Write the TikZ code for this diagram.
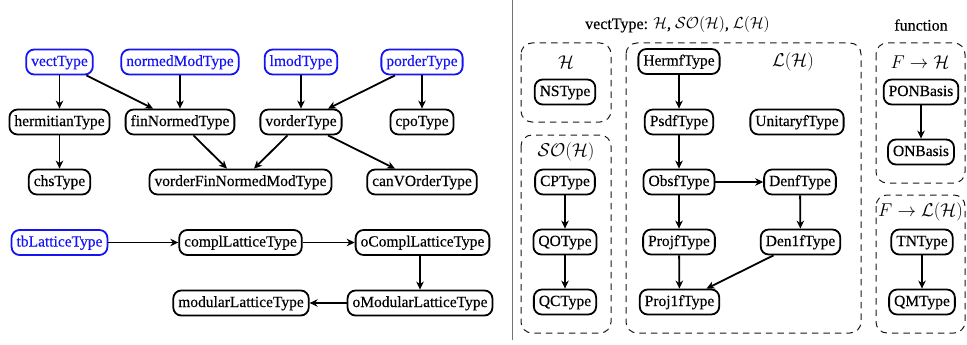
\documentclass[tikz,border=0pt]{standalone}
\usepackage{fix-cm}
\usepackage{fontspec}
\setmainfont{Liberation Serif}
\newfontfamily\nodefont[FakeBold=0.35]{Liberation Serif}
\usetikzlibrary{arrows.meta}
\definecolor{tyblue}{RGB}{20,20,245}
\tikzset{
  tybox/.style={draw, line width=1.8pt, rounded corners=8pt, inner xsep=5pt, inner ysep=0pt,
    text height=11.5pt, text depth=3.5pt, minimum height=25pt, font=\nodefont\fontsize{15.5}{18}\selectfont},
  basebox/.style={tybox, tyblue, text=tyblue},
  lbl/.style={inner sep=0pt, font=\fontsize{18.5}{22}\selectfont},
  ttl/.style={inner sep=0pt, font=\nodefont\fontsize{16}{19}\selectfont},
  arr/.style={line width=1.8pt, -{Stealth[length=8pt,width=7.5pt,inset=2.5pt]}},
  grp/.style={draw=black!90, line width=1pt, dash pattern=on 6.5pt off 5pt, rounded corners=11pt},
  sep/.style={draw=black!55, line width=1.5pt}
}
\begin{document}
\begin{tikzpicture}[x=1pt,y=-1pt]
\useasboundingbox (0,0) rectangle (967,345);
% ---------- left part ----------
\node[basebox] (vect) at (59.5,62) {vectType};
\node[basebox] (nmod) at (180,62) {normedModType};
\node[basebox] (lmod) at (301,62) {lmodType};
\node[basebox] (pord) at (422,62) {porderType};
\node[tybox] (herm) at (59.5,122) {hermitianType};
\node[tybox] (finn) at (180,122) {finNormedType};
\node[tybox] (vord) at (301,122) {vorderType};
\node[tybox] (cpo) at (422,122) {cpoType};
\node[tybox] (chs) at (59.5,182) {chsType};
\node[tybox] (vfnm) at (240.5,182) {vorderFinNormedModType};
\node[tybox] (canv) at (422,182) {canVOrderType};
\node[basebox] (tbl) at (59.5,242.5) {tbLatticeType};
\node[tybox] (compl) at (240.5,242.5) {complLatticeType};
\node[tybox] (ocompl) at (422.5,242.5) {oComplLatticeType};
\node[tybox] (omod) at (420,303) {oModularLatticeType};
\node[tybox] (modl) at (241,303) {modularLatticeType};
\draw[arr] (vect) -- (herm);
\draw[arr] (vect) -- (finn);
\draw[arr] (nmod) -- (finn);
\draw[arr] (lmod) -- (vord);
\draw[arr] (pord) -- (vord);
\draw[arr] (pord) -- (cpo);
\draw[arr] (herm) -- (chs);
\draw[arr] (finn) -- (vfnm);
\draw[arr] (vord) -- (vfnm);
\draw[arr] (vord) -- (canv);
\draw[arr] (tbl) -- (compl);
\draw[arr] (compl) -- (ocompl);
\draw[arr] (ocompl.south -| omod.north) -- (omod.north);
\draw[arr] (omod) -- (modl);
% ---------- separator ----------
\coordinate (septop) at (512.7,0);
\coordinate (sepbot) at (512.7,340);
\draw[sep] (septop) -- (sepbot);
% ---------- right part ----------
\node[ttl] (title) at (677.5,25) {vectType: $\mathcal{H}$, $\mathcal{SO}(\mathcal{H})$, $\mathcal{L}(\mathcal{H})$};
\node[ttl] (func) at (921,25) {function};
\draw[grp] (521,43) rectangle (611,122);
\draw[grp] (521,135) rectangle (611,333);
\draw[grp] (626,43) rectangle (861,333);
\draw[grp] (876,43) rectangle (965,183);
\draw[grp] (876,195) rectangle (965,333);
\node[lbl] (lH) at (566,62) {$\mathcal{H}$};
\node[lbl] (lSO) at (566,152) {$\mathcal{SO}(\mathcal{H})$};
\node[lbl] (lL) at (793,62) {$\mathcal{L}(\mathcal{H})$};
\node[lbl] (lFH) at (920,62) {$F\to\mathcal{H}$};
\node[lbl] (lFL) at (920.5,212) {$F\to\mathcal{L}(\mathcal{H})$};
\node[tybox] (ns) at (565,92) {NSType};
\node[tybox] (cp) at (565,182) {CPType};
\node[tybox] (qo) at (565,242) {QOType};
\node[tybox] (qc) at (565,302) {QCType};
\node[tybox] (hermf) at (679,61.5) {HermfType};
\node[tybox] (psdf) at (679,122) {PsdfType};
\node[tybox] (unit) at (797,122) {UnitaryfType};
\node[tybox] (obsf) at (679,182) {ObsfType};
\node[tybox] (denf) at (800,182) {DenfType};
\node[tybox] (projf) at (679,242) {ProjfType};
\node[tybox] (den1f) at (800.5,242) {Den1fType};
\node[tybox] (proj1f) at (679.5,302) {Proj1fType};
\node[tybox] (pon) at (921,92) {PONBasis};
\node[tybox] (on) at (921,152) {ONBasis};
\node[tybox] (tn) at (922,242) {TNType};
\node[tybox] (qm) at (922,302) {QMType};
\draw[arr] (cp) -- (qo);
\draw[arr] (qo) -- (qc);
\draw[arr] (hermf) -- (psdf);
\draw[arr] (psdf) -- (obsf);
\draw[arr] (obsf) -- (denf);
\draw[arr] (obsf) -- (projf);
\draw[arr] (denf) -- (den1f);
\draw[arr] (projf) -- (proj1f);
\draw[arr] (den1f) -- (proj1f);
\draw[arr] (pon) -- (on);
\draw[arr] (tn) -- (qm);
\end{tikzpicture}
\end{document}
